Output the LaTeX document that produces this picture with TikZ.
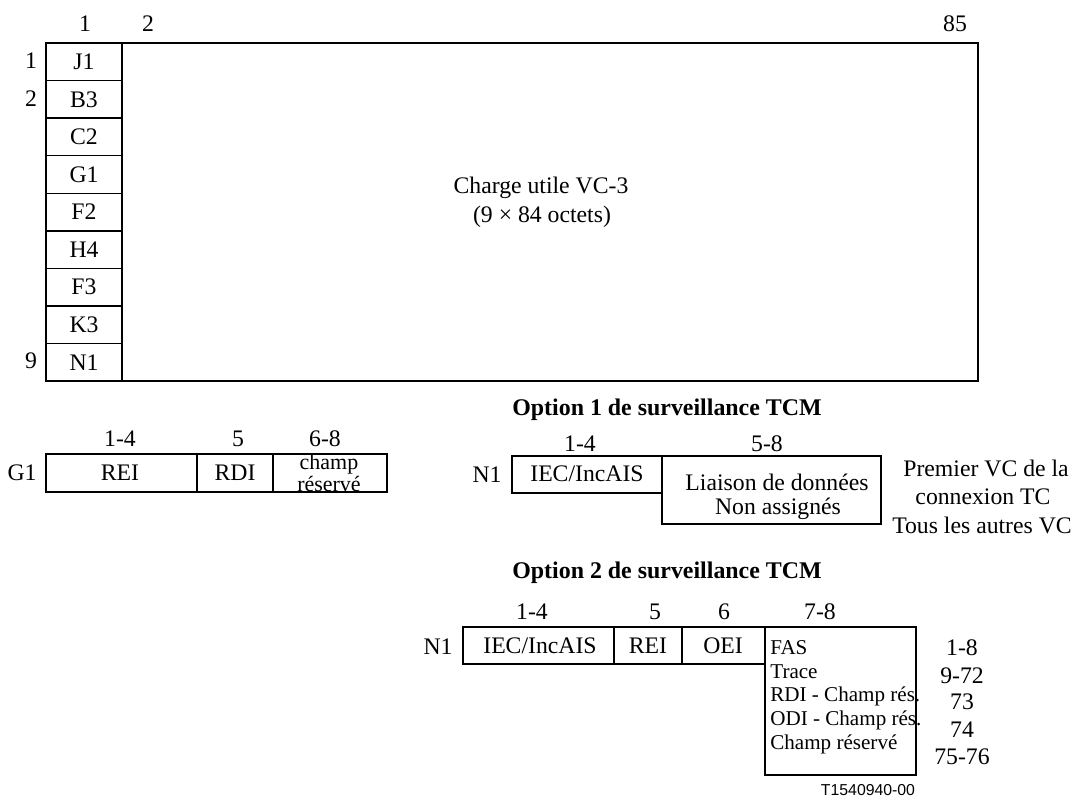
\documentclass[tikz,border=0pt]{standalone}
\usepackage{fontspec}
\setmainfont{Liberation Serif}
\newfontfamily\refsans{Liberation Sans}
\usetikzlibrary{positioning}

\tikzset{
  fld/.style={line width=0.8pt},
  lbl/.style={inner sep=0pt, font=\fontsize{13.5}{15}\selectfont},
  small/.style={inner sep=0pt, font=\fontsize{12.5}{11.3}\selectfont, align=center},
  ttl/.style={inner sep=0pt, font=\fontsize{13.6}{15}\selectfont\bfseries},
}

\begin{document}
\begin{tikzpicture}[x=0.02cm, y=-0.02cm]
\useasboundingbox (0,0) rectangle (1078,799);

% VC-3 frame
\draw[fld] (46,43) rectangle (978,381);
\foreach \lab [count=\i] in {J1,B3,C2,G1,F2,H4,F3,K3,N1} {
  \draw[fld] (46,{43+(\i-1)*37.56}) rectangle (122,{43+\i*37.56});
  \node[lbl] (poh\i) at (84,{43+(\i-0.5)*37.56}) {\lab};
}
\node[lbl] (col1) at (85,24) {1};
\node[lbl] (col2) at (148,24) {2};
\node[lbl] (col85) at (955,24) {85};
\node[lbl] (row1) at (31,61) {1};
\node[lbl] (row2) at (31,99) {2};
\node[lbl] (row9) at (31,361) {9};
\node[lbl] (payload) at (541,188) {Charge utile VC-3};
\node[lbl] (octets) at (542,217) {(9 × 84 octets)};

% G1 byte
\draw[fld] (46,454) rectangle (197,492);
\draw[fld] (197,454) rectangle (273,492);
\draw[fld] (273,454) rectangle (387,492);
\node[lbl] (gone) at (22,473) {G1};
\node[lbl] (grei) at (120,473) {REI};
\node[lbl] (grdi) at (235,473) {RDI};
\node[small] (gres) at (329,473) {champ\\réservé};
\node[lbl] (gb14) at (120,439) {1-4};
\node[lbl] (gb5) at (238,439) {5};
\node[lbl] (gb68) at (325,439) {6-8};

% N1 byte, option 1
\node[ttl] (opt1) at (667,410) {Option 1 de surveillance TCM};
\draw[fld] (512,456) rectangle (662,493);
\draw[fld] (662,456) rectangle (881,524);
\node[lbl] (onen) at (487,475) {N1};
\node[lbl] (oneiec) at (587,474) {IEC/IncAIS};
\node[lbl] (onedl) at (777,482) {Liaison de données};
\node[lbl] (onena) at (778,509) {Non assignés};
\node[lbl] (oneb14) at (580,444) {1-4};
\node[lbl] (oneb58) at (767,444) {5-8};
\node[lbl] (first) at (986,468) {Premier VC de la};
\node[lbl] (conn) at (983,497) {connexion TC};
\node[lbl] (others) at (982,525) {Tous les autres VC};

% N1 byte, option 2
\node[ttl] (opt2) at (667,573) {Option 2 de surveillance TCM};
\draw[fld] (463,627) rectangle (614,664);
\draw[fld] (614,627) rectangle (682,664);
\draw[fld] (682,627) rectangle (765,664);
\draw[fld] (765,627) rectangle (916,775);
\node[lbl] (twon) at (438,647) {N1};
\node[lbl] (twoiec) at (540,646) {IEC/IncAIS};
\node[lbl] (tworei) at (648,646) {REI};
\node[lbl] (twooei) at (723,646) {OEI};
\node[lbl] (twob14) at (532,612) {1-4};
\node[lbl] (twob5) at (655,612) {5};
\node[lbl] (twob6) at (724,612) {6};
\node[lbl] (twob78) at (820,612) {7-8};
\foreach \txt/\yy [count=\k] in {FAS/648, Trace/672, RDI - Champ rés./696, ODI - Champ rés./720, Champ réservé/744} {
  \node[lbl, anchor=west, font=\fontsize{12}{14}\selectfont] (mf\k) at (770,\yy) {\txt};
}
\foreach \num/\yy [count=\k] in {1-8/648, 9-72/676, 73/702, 74/730, 75-76/757} {
  \node[lbl] (mfn\k) at (962,\yy) {\num};
}
\node[inner sep=0pt, font=\refsans\fontsize{9}{10}\selectfont] (fig) at (868,790) {T1540940-00};
\end{tikzpicture}
\end{document}
